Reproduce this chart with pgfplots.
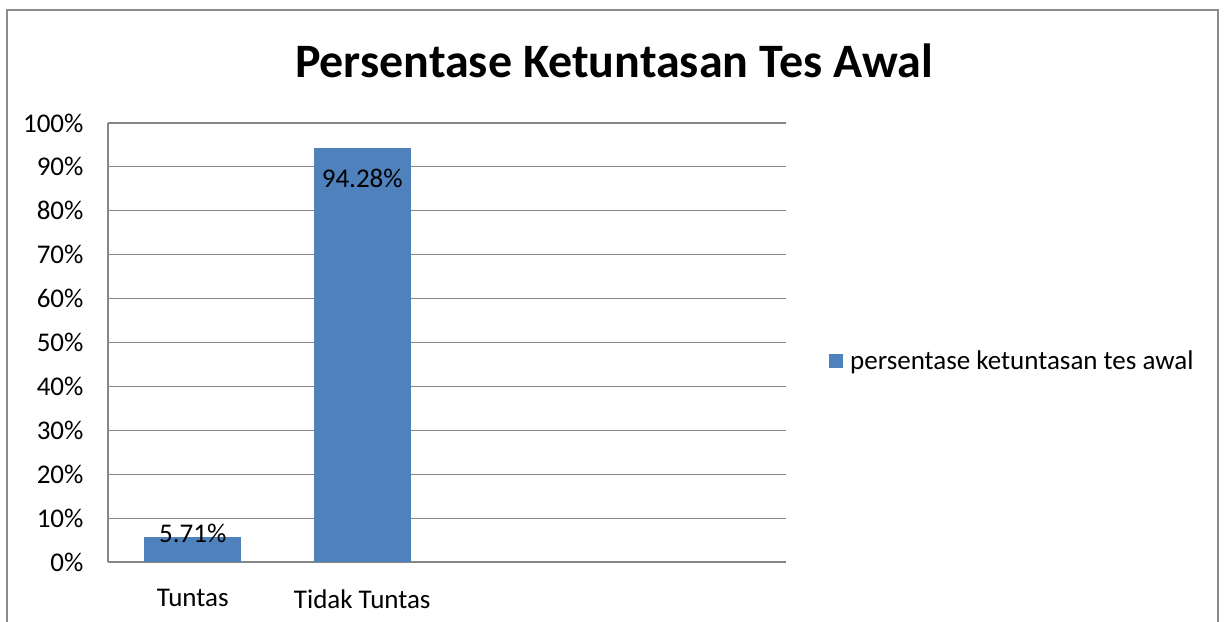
\documentclass[border=0pt]{standalone}
\usepackage{fontspec}
\setmainfont{Carlito}
\usepackage{pgfplots}
\pgfplotsset{compat=1.18}
\definecolor{barblue}{HTML}{4F81BD}
\definecolor{gridgray}{HTML}{868686}
\definecolor{framegray}{HTML}{8C8C8C}
\newcommand{\lbl}{\fontsize{27}{32}\selectfont}
\begin{document}
\begin{tikzpicture}
\path[use as bounding box] (0,0) rectangle (1225pt,621pt);
\draw[framegray, line width=1.5pt] (7pt,-10pt) -- (7pt,611pt) -- (1218pt,611pt) -- (1218pt,-10pt);
\node[font=\fontsize{48}{56}\selectfont\bfseries] at (614pt,560pt) {Persentase Ketuntasan Tes Awal};
\begin{axis}[
  at={(108pt,59pt)}, anchor=south west,
  width=678pt, height=439pt, scale only axis,
  xmin=-0.5, xmax=3.5, ymin=0, ymax=100,
  axis x line*=bottom, axis y line*=left,
  axis line style={gridgray, line width=1.2pt},
  major tick length=0pt,
  xtick={0,1}, xticklabels={Tuntas, Tidak Tuntas},
  ytick={0,10,...,100},
  yticklabel={\pgfmathprintnumber{\tick}\%},
  /pgf/number format/assume math mode=true,
  ymajorgrids, grid style={gridgray, line width=1.2pt},
  tick label style={font=\lbl, black},
  yticklabel style={xshift=-21pt},
  xticklabel style={yshift=-24pt},
  legend style={draw=none, fill=none, at={(1.0634,0.458)}, anchor=west, font=\lbl, inner sep=0pt},
]
\addplot[ybar, fill=barblue, draw=none, bar width=97pt, bar shift=0pt,
  legend image code/.code={\fill[barblue] (0pt,-7pt) rectangle (14pt,7pt); \path (19pt,0pt);},
  nodes near coords={\pgfmathprintnumber[fixed,precision=2,fixed zerofill]{\pgfplotspointmeta}\%},
  every node near coord/.append style={font=\lbl, black, anchor=base, yshift=-6pt}]
  coordinates {(0,5.71)};
\addlegendentry{persentase ketuntasan tes awal}
\addplot[ybar, fill=barblue, draw=none, bar width=97pt, bar shift=0pt, forget plot,
  nodes near coords={\pgfmathprintnumber[fixed,precision=2,fixed zerofill]{\pgfplotspointmeta}\%},
  every node near coord/.append style={font=\lbl, black, anchor=base, yshift=-39pt}]
  coordinates {(1,94.28)};
\end{axis}
\end{tikzpicture}
\end{document}
